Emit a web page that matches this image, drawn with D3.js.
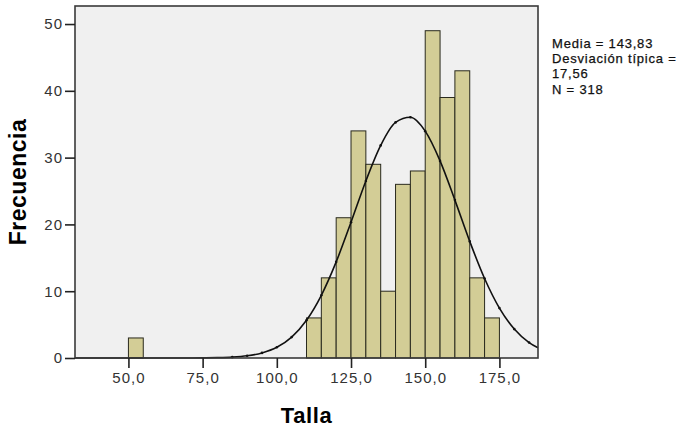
<!DOCTYPE html>
<html>
<head>
<meta charset="utf-8">
<script src="https://cdn.jsdelivr.net/npm/d3@7"></script>
<style>
  body { margin: 0; background: #fff; }
  svg { display: block; font-family: "Liberation Sans", Arial, sans-serif; }
</style>
</head>
<body>
<svg id="chart" width="689" height="429"></svg>
<script>
// histogram bins (start of each 5-unit bin) and frequencies
var binStarts = [50, 110, 115, 120, 125, 130, 135, 140, 145, 150, 155, 160, 165, 170];
var counts    = [3, 6, 12, 21, 34, 29, 10, 26, 28, 49, 39, 43, 12, 6];
var BIN_WIDTH = 5;

// normal curve
var curveX = [32, 40, 50, 60, 70, 75, 80, 85, 90, 95, 100, 105, 110, 115, 120, 125, 130, 135,
              140, 145, 150, 155, 160, 165, 170, 175, 180, 185, 188];
var curveY = [0, 0, 0, 0, 0, 0.02, 0.05, 0.13, 0.33, 0.76, 1.6, 3.13, 5.65, 9.39, 14.39, 20.33, 26.5, 31.83,
              35.27, 36.04, 33.96, 29.51, 23.64, 17.46, 11.9, 7.47, 4.33, 2.31, 1.53];

var xTicks = [50, 75, 100, 125, 150, 175];
var yTicks = [0, 10, 20, 30, 40, 50];
var statsLines = ["Media = 143,83", "Desviación típica =", "17,56", "N = 318"];

const PLOT_LEFT = 75, PLOT_RIGHT = 538, PLOT_TOP = 6, PLOT_BOT = 358;

var svg = d3.select("#chart");

var x = d3.scaleLinear().domain([32, 188]).range([PLOT_LEFT, PLOT_RIGHT]);
var y = d3.scaleLinear().domain([0, 52.7]).range([PLOT_BOT, PLOT_TOP]);

// plot background
svg.append("rect")
	.attr("x", PLOT_LEFT)
	.attr("y", PLOT_TOP)
	.attr("width", PLOT_RIGHT - PLOT_LEFT)
	.attr("height", PLOT_BOT - PLOT_TOP)
	.attr("fill", "#f0f0f0");

// bars
svg.selectAll(".bar")
	.data(binStarts)
  .enter().append("rect")
	.attr("class", "bar")
	.attr("x", function(d) { return x(d); })
	.attr("y", function(d, i) { return y(counts[i]); })
	.attr("width", function(d) { return x(d + BIN_WIDTH) - x(d); })
	.attr("height", function(d, i) { return y(0) - y(counts[i]); })
	.attr("fill", "#d3cd96")
	.attr("stroke", "#2a2a1e")
	.attr("stroke-width", 1);

// normal curve
var pts = curveX.map(function(d, i) { return [d, curveY[i]]; });
var line = d3.line()
	.x(function(d) { return x(d[0]); })
	.y(function(d) { return y(d[1]); })
	.curve(d3.curveMonotoneX);

svg.append("path")
	.datum(pts)
	.attr("d", line)
	.attr("fill", "none")
	.attr("stroke", "#111")
	.attr("stroke-width", 1.6);

svg.selectAll(".cdot")
	.data(pts.filter(function(d) { return d[0] >= 85 && d[0] <= 185; }))
  .enter().append("circle")
	.attr("class", "cdot")
	.attr("cx", function(d) { return x(d[0]); })
	.attr("cy", function(d) { return y(d[1]); })
	.attr("r", 1.3)
	.attr("fill", "#111");

// frame
svg.append("rect")
	.attr("x", PLOT_LEFT)
	.attr("y", PLOT_TOP)
	.attr("width", PLOT_RIGHT - PLOT_LEFT)
	.attr("height", PLOT_BOT - PLOT_TOP)
	.attr("fill", "none")
	.attr("stroke", "#3a3a3a")
	.attr("stroke-width", 1.6);

// axes
var fmt = function(d) { return d3.format(".1f")(d).replace(".", ","); };

var xAxis = svg.append("g")
	.attr("transform", "translate(0," + PLOT_BOT + ")")
	.call(d3.axisBottom(x).tickValues(xTicks).tickFormat(fmt).tickSize(10).tickPadding(4));

var yAxis = svg.append("g")
	.attr("transform", "translate(" + PLOT_LEFT + ",0)")
	.call(d3.axisLeft(y).tickValues(yTicks).tickSize(10).tickPadding(2));

[xAxis, yAxis].forEach(function(g) {
	g.select(".domain").remove();
	g.selectAll(".tick line").attr("stroke", "#222").attr("stroke-width", 1.6);
	g.selectAll(".tick text")
		.attr("fill", "#333")
		.style("font-family", "'Liberation Sans', Arial, sans-serif")
		.style("font-size", "15px")
		.style("letter-spacing", "1px");
});

// axis titles
svg.append("text")
	.attr("x", (PLOT_LEFT + PLOT_RIGHT) / 2)
	.attr("y", 423)
	.attr("text-anchor", "middle")
	.style("font-size", "22px")
	.style("font-weight", "bold")
	.style("letter-spacing", "0.6px")
	.text("Talla");

svg.append("text")
	.attr("transform", "translate(26," + (PLOT_TOP + PLOT_BOT) / 2 + ") rotate(-90)")
	.attr("text-anchor", "middle")
	.style("font-size", "23px")
	.style("font-weight", "bold")
	.style("letter-spacing", "0.5px")
	.text("Frecuencia");

// stats box text
svg.selectAll(".stat")
	.data(statsLines)
  .enter().append("text")
	.attr("class", "stat")
	.attr("x", 552)
	.attr("y", function(d, i) { return 48 + i * 15.2; })
	.style("font-size", "13px")
	.style("letter-spacing", "0.8px")
	.attr("fill", "#111")
	.attr("stroke", "#111")
	.attr("stroke-width", 0.25)
	.text(function(d) { return d; });
</script>
</body>
</html>
